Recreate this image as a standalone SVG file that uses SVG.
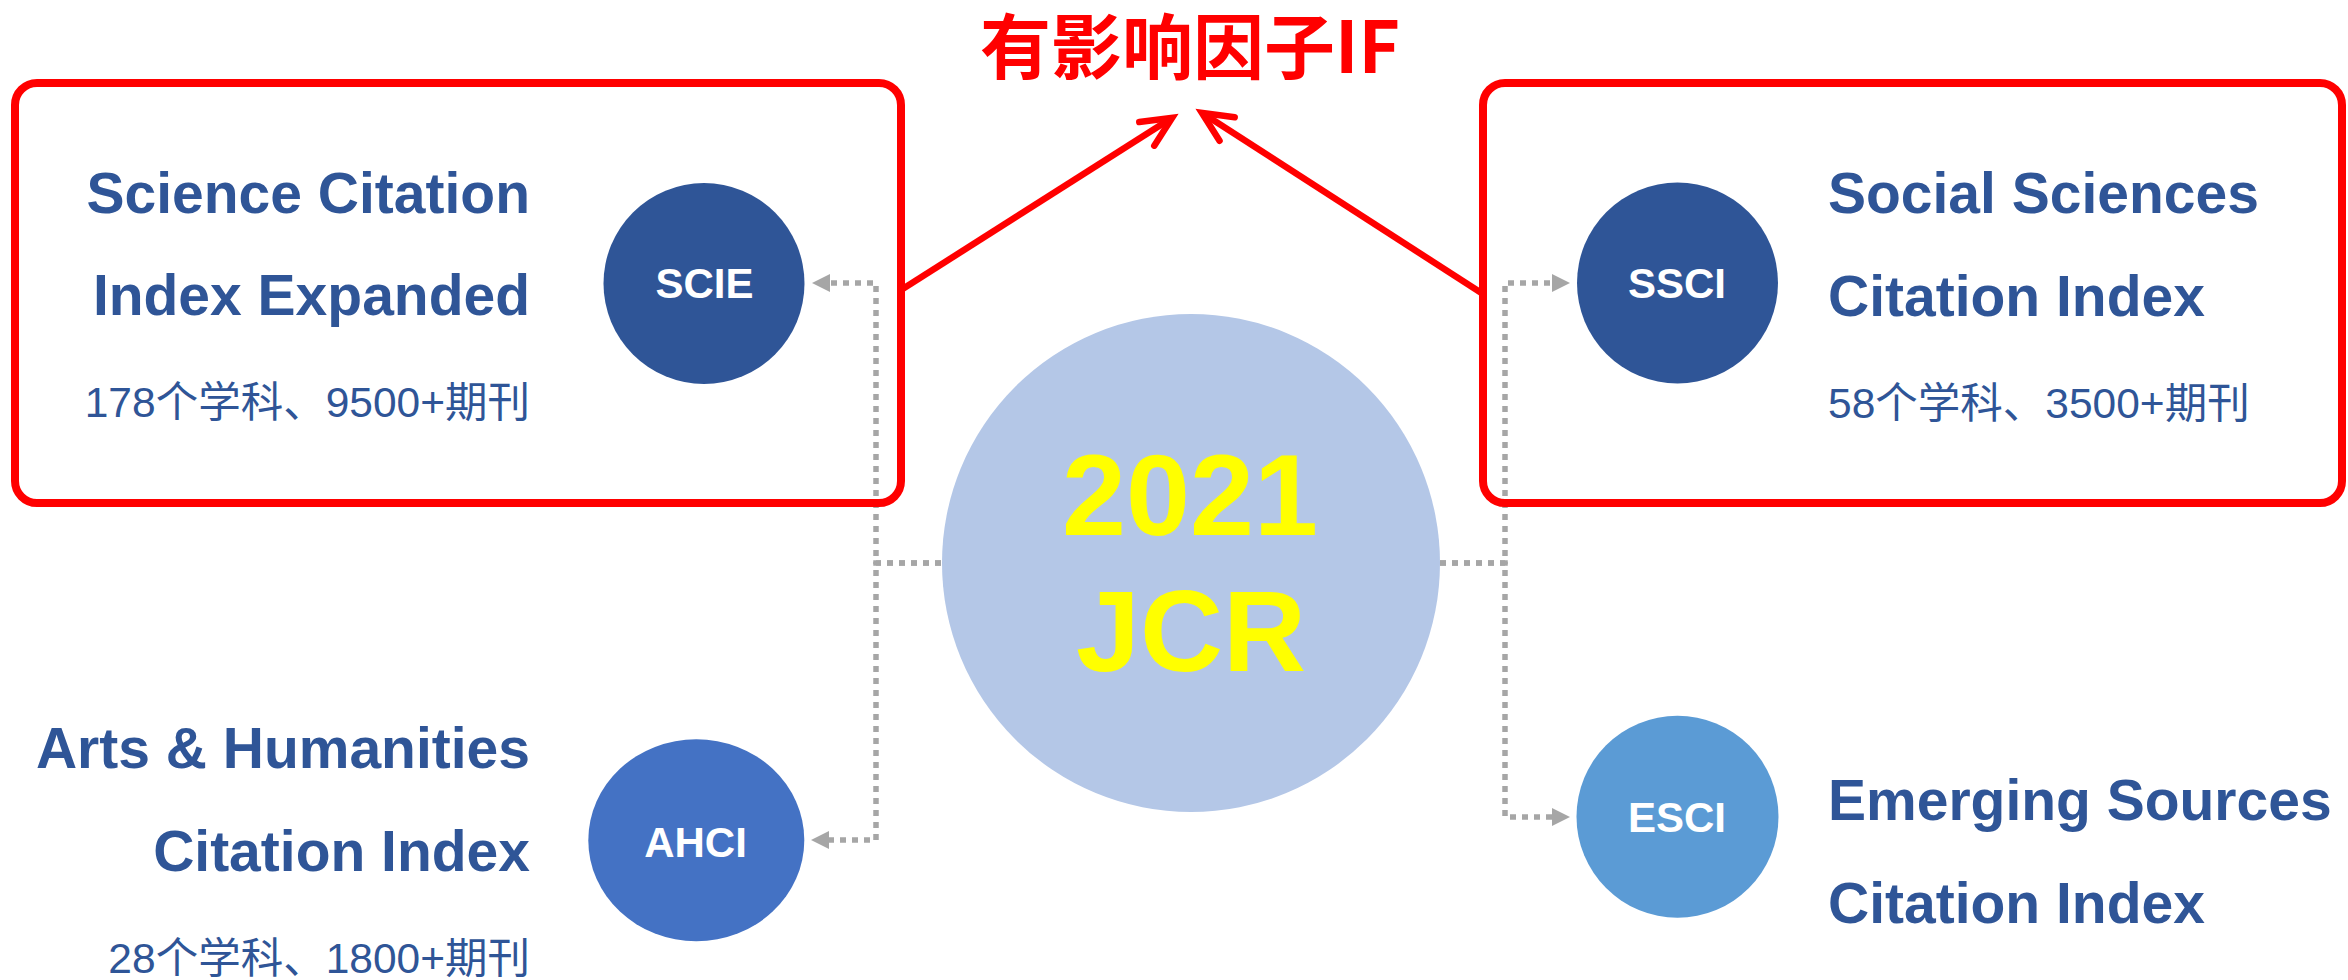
<svg xmlns="http://www.w3.org/2000/svg" width="2348" height="980" viewBox="0 0 2348 980">
<style>
.bg{fill:#FFFFFF}
.dot{fill:none;stroke:#A6A6A6;stroke-width:5.5;stroke-dasharray:6 6}
.redline{fill:none;stroke:#FF0000;stroke-width:6.5}
.frame{fill:none;stroke:#FF0000;stroke-width:8}
.big{font-family:"Liberation Sans",Arial,sans-serif;font-weight:bold;font-size:57px;fill:#2F5597}
.small{font-family:"Liberation Sans",Arial,"Noto Sans CJK SC",sans-serif;font-size:42.5px;fill:#2F5597}
.lbl{font-family:"Liberation Sans",Arial,sans-serif;font-weight:bold;font-size:42px;fill:#FFFFFF;text-anchor:middle}
.jcr{font-family:"Liberation Sans",Arial,sans-serif;font-weight:bold;font-size:115px;fill:#FFFF00;text-anchor:middle}
.title{font-family:"Noto Sans CJK SC","Noto Sans CJK JP",sans-serif;font-weight:bold;font-size:71px;fill:#FF0000}
.end{text-anchor:end}
</style>
<defs>
<marker id="grayArrow" markerUnits="userSpaceOnUse" viewBox="0 -10 20 20" markerWidth="20" markerHeight="20" refX="0" refY="0" orient="auto">
<path d="M0,-9 L18,0 L0,9 Z" fill="#A6A6A6"/>
</marker>
<marker id="redArrow" markerUnits="userSpaceOnUse" viewBox="-40 -20 50 40" markerWidth="50" markerHeight="40" refX="0" refY="0" orient="auto">
<path d="M-30,-14 L0,0 L-30,14" fill="none" stroke="#FF0000" stroke-width="6.5" stroke-linecap="round" stroke-linejoin="miter"/>
</marker>
</defs>
<rect class="bg" x="0" y="0" width="2348" height="980"/>

<g id="connectors">
<path class="dot" d="M941,563 H876 V283 H830" marker-end="url(#grayArrow)"/>
<path class="dot" d="M941,563 H876 V840 H829" marker-end="url(#grayArrow)"/>
<path class="dot" d="M1440,563 H1505 V283 H1552" marker-end="url(#grayArrow)"/>
<path class="dot" d="M1440,563 H1505 V817 H1552" marker-end="url(#grayArrow)"/>
</g>

<g id="jcr">
<circle cx="1191" cy="563" r="249" fill="#B4C7E7"/>
<text class="jcr" x="1190" y="535">2021</text>
<text class="jcr" x="1191" y="671">JCR</text>
</g>

<g id="scie">
<circle cx="704" cy="283.5" r="100.5" fill="#2F5597"/>
<text class="lbl" x="704.5" y="298">SCIE</text>
<text class="big end" x="530" y="213">Science Citation</text>
<text class="big end" x="530" y="315">Index Expanded</text>
<text class="small end" x="530" y="417">178个学科、9500+期刊</text>
</g>

<g id="ssci">
<circle cx="1677.5" cy="283" r="100.5" fill="#2F5597"/>
<text class="lbl" x="1677" y="298">SSCI</text>
<text class="big" x="1828" y="213">Social Sciences</text>
<text class="big" x="1828" y="316">Citation Index</text>
<text class="small" x="1828" y="418">58个学科、3500+期刊</text>
</g>

<g id="ahci">
<ellipse cx="696.3" cy="840.2" rx="108" ry="101" fill="#4472C4"/>
<text class="lbl" x="695.5" y="857">AHCI</text>
<text class="big end" x="530" y="768">Arts &amp; Humanities</text>
<text class="big end" x="530" y="871">Citation Index</text>
<text class="small end" x="530" y="973">28个学科、1800+期刊</text>
</g>

<g id="esci">
<circle cx="1677.5" cy="816.7" r="101" fill="#5B9BD5"/>
<text class="lbl" x="1677" y="832">ESCI</text>
<text class="big" x="1828" y="820">Emerging Sources</text>
<text class="big" x="1828" y="923">Citation Index</text>
</g>

<g id="highlight-frames">
<rect class="frame" x="15" y="83" width="886" height="420" rx="22" ry="22"/>
<rect class="frame" x="1483" y="83" width="859" height="420" rx="22" ry="22"/>
</g>

<g id="if-arrows">
<path class="redline" d="M901,290 L1172.1,117.8" marker-end="url(#redArrow)"/>
<path class="redline" d="M1483,294 L1201.9,112.8" marker-end="url(#redArrow)"/>
</g>

<g id="impact-factor">
<text class="title" x="980" y="73">有影响因子IF</text>
</g>
</svg>
